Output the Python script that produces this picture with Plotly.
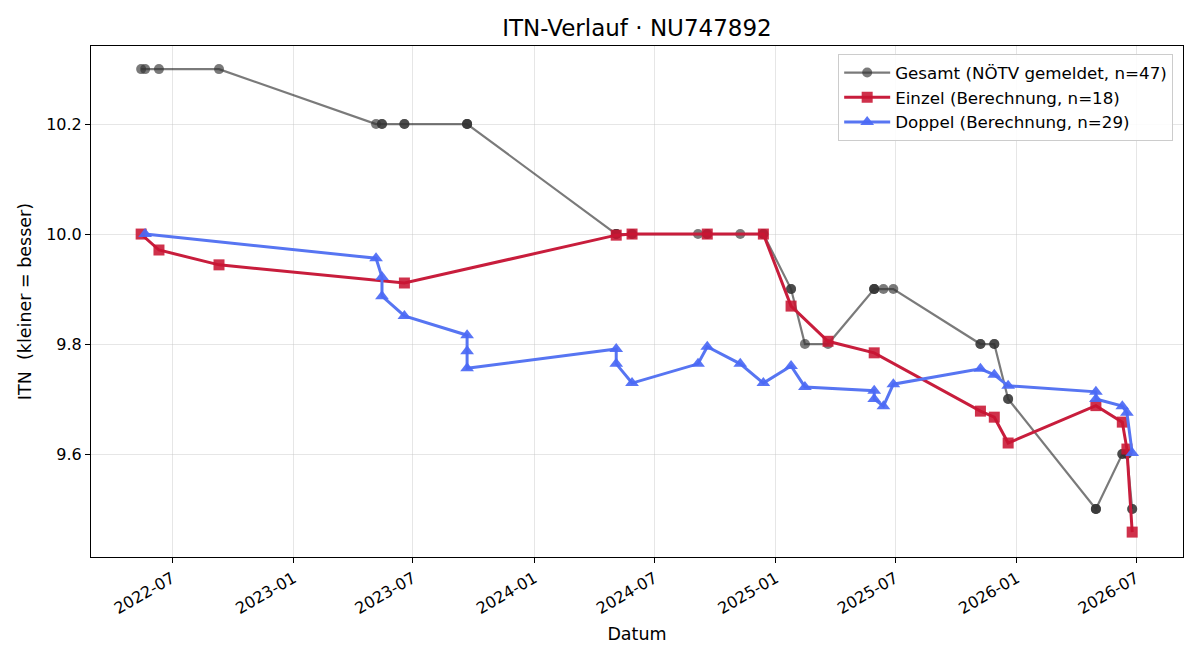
import plotly.graph_objects as go

# --- Data -------------------------------------------------------------
einzel_dates = ["2022-05-15", "2022-06-11", "2022-09-10", "2023-06-18", "2024-05-04",
                "2024-05-28", "2024-09-19", "2024-12-13", "2025-01-24", "2025-03-21",
                "2025-05-30", "2025-11-07", "2025-11-28", "2025-12-19", "2026-05-01",
                "2026-06-10", "2026-06-17", "2026-06-25"]
einzel_itn = [10.0, 9.971, 9.944, 9.911, 9.998, 10.0, 10.0, 10.0, 9.869, 9.805,
              9.784, 9.678, 9.667, 9.620, 9.688, 9.658, 9.609, 9.458]

doppel_dates = ["2022-05-21", "2023-05-06", "2023-05-15", "2023-05-15", "2023-06-18",
                "2023-09-21", "2023-09-21", "2023-09-21", "2024-05-04", "2024-05-04",
                "2024-05-28", "2024-09-05", "2024-09-19", "2024-11-08", "2024-12-13",
                "2025-01-24", "2025-02-14", "2025-05-30", "2025-05-30", "2025-06-13",
                "2025-06-28", "2025-11-07", "2025-11-28", "2025-12-19", "2026-05-01",
                "2026-05-01", "2026-06-10", "2026-06-17", "2026-06-25"]
doppel_itn = [10.0, 9.956, 9.922, 9.887, 9.851, 9.816, 9.787, 9.756, 9.791, 9.764,
              9.729, 9.764, 9.795, 9.764, 9.729, 9.760, 9.722, 9.715, 9.700, 9.687,
              9.727, 9.755, 9.744, 9.724, 9.713, 9.700, 9.687, 9.675, 9.602]

gesamt_dates = ["2022-05-15", "2022-05-21", "2022-06-11", "2022-09-10", "2023-05-06",
                "2023-05-15", "2023-05-15", "2023-06-18", "2023-06-18", "2023-09-21",
                "2023-09-21", "2023-09-21", "2024-05-04", "2024-05-04", "2024-05-04",
                "2024-05-28", "2024-05-28", "2024-09-05", "2024-09-19", "2024-09-19",
                "2024-11-08", "2024-12-13", "2024-12-13", "2025-01-24", "2025-01-24",
                "2025-02-14", "2025-03-21", "2025-05-30", "2025-05-30", "2025-05-30",
                "2025-06-13", "2025-06-28", "2025-11-07", "2025-11-07", "2025-11-28",
                "2025-11-28", "2025-12-19", "2025-12-19", "2026-05-01", "2026-05-01",
                "2026-05-01", "2026-06-10", "2026-06-10", "2026-06-17", "2026-06-17",
                "2026-06-25", "2026-06-25"]
gesamt_itn = [10.3, 10.3, 10.3, 10.3, 10.2, 10.2, 10.2, 10.2, 10.2, 10.2,
              10.2, 10.2, 10.0, 10.0, 10.0, 10.0, 10.0, 10.0, 10.0, 10.0,
              10.0, 10.0, 10.0, 9.9, 9.9, 9.8, 9.8, 9.9, 9.9, 9.9,
              9.9, 9.9, 9.8, 9.8, 9.8, 9.8, 9.7, 9.7, 9.5, 9.5,
              9.5, 9.6, 9.6, 9.6, 9.6, 9.5, 9.5]

series_names = ["Gesamt (NÖTV gemeldet, n=47)",
                "Einzel (Berechnung, n=18)",
                "Doppel (Berechnung, n=29)"]

title_text = "ITN-Verlauf · NU747892"
x_label = "Datum"
y_label = "ITN  (kleiner = besser)"

# --- Figure -----------------------------------------------------------
FONT = "DejaVu Sans"

fig = go.Figure()

fig.add_trace(go.Scatter(
    x=gesamt_dates, y=gesamt_itn, name=series_names[0], mode="lines+markers",
    line=dict(color="rgba(0,0,0,0.52)", width=2.2),
    marker=dict(symbol="circle", size=10, color="rgba(50,50,50,0.65)",
                line=dict(width=0)),
))
fig.add_trace(go.Scatter(
    x=einzel_dates, y=einzel_itn, name=series_names[1], mode="lines+markers",
    line=dict(color="#c81d3c", width=3),
    marker=dict(symbol="square", size=11, color="rgba(200,20,50,0.88)",
                line=dict(width=0)),
))
fig.add_trace(go.Scatter(
    x=doppel_dates, y=doppel_itn, name=series_names[2], mode="lines+markers",
    line=dict(color="#5775f2", width=3),
    marker=dict(symbol="triangle-up", size=12, color="rgba(75,105,245,0.92)",
                line=dict(width=0)),
))

axis_common = dict(
    showline=True, linecolor="black", linewidth=1, mirror=True,
    ticks="outside", ticklen=5, tickcolor="black", tickwidth=1,
    showgrid=True, gridcolor="rgba(200,200,200,0.45)", gridwidth=1,
    zeroline=False,
    tickfont=dict(family=FONT, size=16, color="black"),
)

fig.update_layout(
    width=1200, height=660,
    margin=dict(l=91, r=17, t=46, b=103),
    paper_bgcolor="white", plot_bgcolor="white",
    font=dict(family=FONT, color="black"),
    title=dict(text=title_text, x=0.5, xref="paper", xanchor="center",
               y=0.957, yanchor="middle",
               font=dict(family=FONT, size=23, color="black")),
    showlegend=True,
    legend=dict(
        x=0.991, y=0.984, xanchor="right", yanchor="top",
        bgcolor="rgba(255,255,255,0.85)", bordercolor="#cccccc", borderwidth=1,
        font=dict(family=FONT, size=16.7, color="black"),
        itemwidth=46, tracegroupgap=0,
    ),
    xaxis=dict(
        **axis_common,
        type="date",
        range=["2022-02-28", "2026-09-10"],
        tick0="2022-07-01", dtick="M6", tickformat="%Y-%m",
        tickangle=-30,
        title=dict(text=x_label, font=dict(family=FONT, size=17.5, color="black"),
                   standoff=10),
    ),
    yaxis=dict(
        **axis_common,
        range=[9.4127, 10.342],
        tickvals=[9.6, 9.8, 10.0, 10.2], tickformat=".1f",
        title=dict(text=y_label, font=dict(family=FONT, size=17.5, color="black"),
                   standoff=10),
    ),
)

fig.write_html("out.html")
